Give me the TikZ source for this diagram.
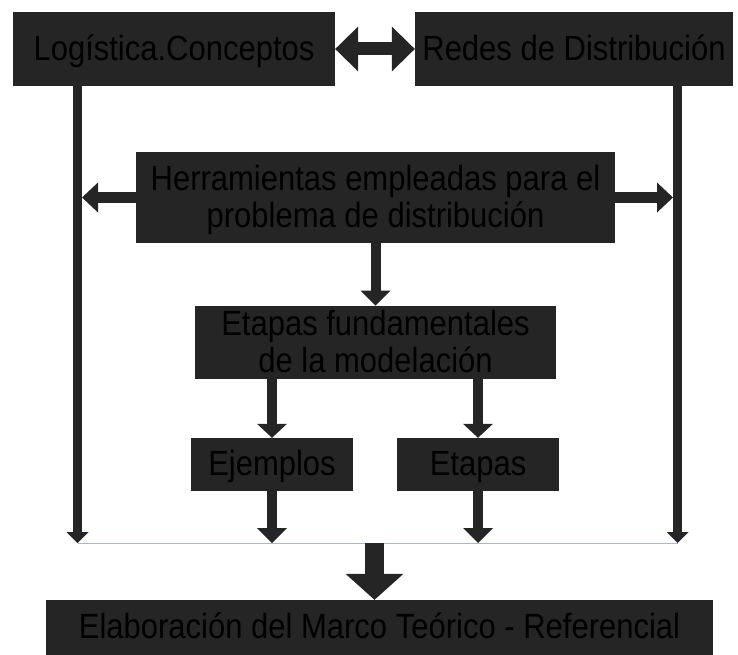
\documentclass[tikz,border=0pt]{standalone}
\usepackage{fontspec}
\usepackage{graphicx}
\setmainfont{Liberation Sans}
\usetikzlibrary{arrows.meta,calc}

\definecolor{boxfill}{HTML}{252525}
\definecolor{barblue}{HTML}{A3B9DC}

% box labels are set slightly stretched in height and sit a little low
\newcommand\boxlabel[1]{\raisebox{-4pt}[\height][\depth]{\scalebox{1}[1.13]{\begin{tabular}{@{}c@{}}#1\end{tabular}}}}

\tikzset{
  block/.style={rectangle, fill=boxfill, inner sep=0pt, text=black,
    align=center, font=\fontsize{31}{32.5}\selectfont},
  flow/.style={draw=boxfill, line width=#1},
}

\begin{document}
\begin{tikzpicture}[x=1pt, y=-1pt]
  \useasboundingbox (0,0) rectangle (738,655);

  % boxes
  \node[block, minimum width=322pt, minimum height=74pt] (log) at (174,49) {\boxlabel{Logística.Conceptos}};
  \node[block, minimum width=318pt, minimum height=74pt] (red) at (574,49) {\boxlabel{Redes de Distribución}};
  \node[block, minimum width=479pt, minimum height=91pt] (her) at (375.5,197.5)
    {\boxlabel{Herramientas empleadas para el\\problema de distribución}};
  \node[block, minimum width=361pt, minimum height=73pt] (eta) at (375.5,342.5)
    {\boxlabel{Etapas fundamentales\\de la modelación}};
  \node[block, minimum width=162pt, minimum height=53pt] (ej) at (272,464.5) {\boxlabel{Ejemplos}};
  \node[block, minimum width=162pt, minimum height=53pt] (et) at (478,464.5) {\boxlabel{Etapas}};
  \node[block, minimum width=667pt, minimum height=55pt] (fin) at (379.5,627.5)
    {\boxlabel{Elaboración del Marco Teórico - Referencial}};

  % side rails and the collecting bar
  \coordinate (lrail) at (77.5,86);
  \coordinate (rrail) at (677.5,86);
  \coordinate (lend) at (77.5,543);
  \coordinate (rend) at (677.5,543);
  \coordinate (ljoin) at (82,197.5);
  \coordinate (rjoin) at (673,197.5);
  \coordinate (ejend) at (272,543);
  \coordinate (etend) at (478,543);
  \coordinate (mid) at (374.5,543);

  \draw[barblue, line width=1pt] (lend) -- (rend);

  \draw[flow=8.5pt, -{Triangle[length=11pt, width=22pt, line width=0pt]}] (lrail) -- (lend);
  \draw[flow=8.5pt, -{Triangle[length=11pt, width=22pt, line width=0pt]}] (rrail) -- (rend);

  % two-way link between the top boxes
  \draw[flow=13pt, {Triangle[length=23pt, width=45pt, line width=0pt]}-{Triangle[length=23pt, width=45pt, line width=0pt]}]
    (log.east) -- (red.west);

  % side links from the tools box
  \draw[flow=11pt, -{Triangle[length=16pt, width=30pt, line width=0pt]}] (her.west) -- (ljoin);
  \draw[flow=11pt, -{Triangle[length=16pt, width=30pt, line width=0pt]}] (her.east) -- (rjoin);

  % downward flow
  \draw[flow=10pt, -{Triangle[length=15pt, width=30pt, line width=0pt]}] (her.south) -- (eta.north);
  \draw[flow=10pt, -{Triangle[length=14pt, width=30pt, line width=0pt]}] (ej.north |- eta.south) -- (ej.north);
  \draw[flow=10pt, -{Triangle[length=14pt, width=30pt, line width=0pt]}] (et.north |- eta.south) -- (et.north);
  \draw[flow=10pt, -{Triangle[length=15pt, width=30pt, line width=0pt]}] (ej.south) -- (ejend);
  \draw[flow=10pt, -{Triangle[length=15pt, width=30pt, line width=0pt]}] (et.south) -- (etend);

  % final arrow into the closing box
  \draw[flow=19pt, -{Triangle[length=26pt, width=58pt, line width=0pt]}] (mid) -- (mid |- fin.north);
\end{tikzpicture}
\end{document}
